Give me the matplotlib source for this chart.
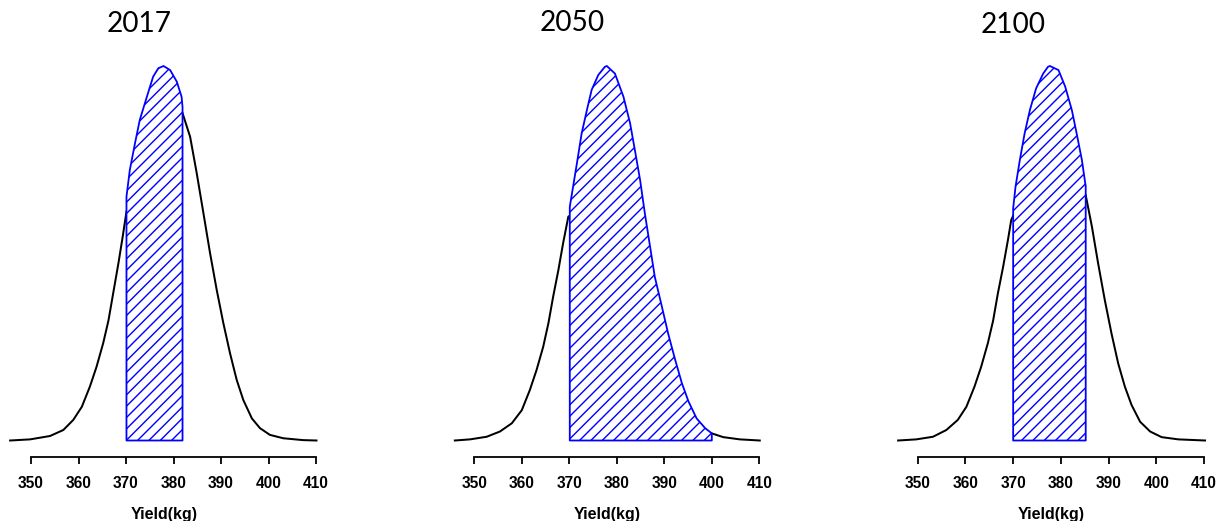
import matplotlib
matplotlib.use("Agg")
import matplotlib.pyplot as plt

DPI = 136
W, H = 1222, 521


def pt(px):
    # pixel -> point at this dpi
    return px * 72 / DPI


years = ["2017", "2050", "2100"]
ticks = [350, 360, 370, 380, 390, 400, 410]
bounds = [(370.1, 381.9), (370.1, 400), (370, 385.2)]

# 2017 : black curve outside the band, blue top edge inside the band (peak = 1)
blx_2017 = [345.6, 349.8, 354, 356.8, 358.9, 360.7, 362.4, 363.8, 365.2, 366.3, 367.3, 368.4, 369.3, 370.1]
bly_2017 = [0, 0.003, 0.012, 0.028, 0.055, 0.09, 0.144, 0.197, 0.26, 0.32, 0.393, 0.473, 0.544, 0.611]
bandx_2017 = [370.1, 370.8, 371.9, 372.9, 374.4, 375.7, 376.8, 377.9, 379.3, 380.7, 381.7, 381.9]
bandy_2017 = [0.651, 0.722, 0.794, 0.856, 0.918, 0.971, 0.994, 1.0, 0.989, 0.958, 0.918, 0.891]
brx_2017 = [381.9, 383.5, 384.9, 386.3, 387.7, 389.1, 390.5, 391.9, 393.3, 394.7, 396.5, 398.2,
            400.3, 403.1, 407.3, 410.1]
bry_2017 = [0.874, 0.811, 0.713, 0.607, 0.5, 0.402, 0.313, 0.233, 0.162, 0.108, 0.059, 0.033,
            0.015, 0.006, 0.001, 0]

# 2050
blx_2050 = [345.9, 349.1, 352.6, 355.4, 357.9, 360, 361.7, 363.1, 364.5, 365.6, 366.6, 367.7, 368.7, 369.8, 370.1]
bly_2050 = [0, 0.003, 0.01, 0.024, 0.046, 0.081, 0.135, 0.188, 0.25, 0.313, 0.384, 0.455, 0.527, 0.598, 0.6]
bandx_2050 = [370.1, 370.8, 371.6, 372.6, 373.7, 374.7, 376.1, 377.5, 377.9, 379.6, 381.4, 382.8,
              383.8, 384.9, 385.9, 387, 388, 389.5, 390.8, 392.3, 393.7, 395.1, 396.8, 398.6, 400]
bandy_2050 = [0.624, 0.678, 0.74, 0.82, 0.882, 0.936, 0.976, 0.998, 1.0, 0.98, 0.918, 0.847,
              0.776, 0.696, 0.607, 0.518, 0.437, 0.357, 0.286, 0.215, 0.153, 0.104, 0.059, 0.033, 0.019]
brx_2050 = [400, 402.4, 405.9, 410.1]
bry_2050 = [0.019, 0.009, 0.003, 0]

# 2100
blx_2100 = [345.9, 349.7, 353.2, 356, 358.4, 360.2, 361.9, 363.3, 364.7, 365.8, 366.8, 367.9, 368.9, 369.6, 370]
bly_2100 = [0, 0.003, 0.01, 0.028, 0.055, 0.09, 0.144, 0.197, 0.26, 0.32, 0.393, 0.464, 0.535, 0.589, 0.6]
bandx_2100 = [370, 370.5, 371.4, 372.4, 373.5, 374.8, 376.3, 377.3, 377.7, 379.5, 380.9, 382.3,
              383.3, 384.4, 385.1, 385.2]
bandy_2100 = [0.62, 0.678, 0.749, 0.82, 0.882, 0.94, 0.98, 0.998, 1.0, 0.989, 0.945, 0.882,
              0.82, 0.749, 0.687, 0.68]
brx_2100 = [385.2, 386.5, 387.8, 389.2, 390.6, 392, 393.4, 394.8, 396.6, 398.7, 401.1, 404.6, 410.2]
bry_2100 = [0.655, 0.571, 0.473, 0.375, 0.286, 0.206, 0.144, 0.095, 0.05, 0.024, 0.009, 0.003, 0]

panels = [
    (blx_2017, bly_2017, bandx_2017, bandy_2017, brx_2017, bry_2017),
    (blx_2050, bly_2050, bandx_2050, bandy_2050, brx_2050, bry_2050),
    (blx_2100, bly_2100, bandx_2100, bandy_2100, brx_2100, bry_2100),
]

plt.rcParams["hatch.linewidth"] = pt(1.4)
plt.rcParams["font.family"] = ["Liberation Sans", "DejaVu Sans"]

fig = plt.figure(figsize=(W / DPI, H / DPI), dpi=DPI)

axis350 = [31, 474.3, 917.7]      # pixel x of tick 350 in each panel
px_per_kg = [4.75, 4.75, 4.773]
base_px, peak_px = 440.5, 66
YTOP = 1.05
title_x = [139.5, 572, 1013.5]
title_y = [24, 23, 25]

for i, (blx, bly, bx, by, brx, bry) in enumerate(panels):
    left = axis350[i] - 5 * px_per_kg[i]
    width = 66 * px_per_kg[i]
    hgt = (base_px - peak_px) * YTOP
    ax = fig.add_axes([left / W, (H - base_px) / H, width / W, hgt / H])
    ax.set_xlim(345, 411)
    ax.set_ylim(0, YTOP)

    ax.plot(blx, bly, color="black", lw=pt(2), clip_on=False, solid_joinstyle="round")
    ax.plot(brx, bry, color="black", lw=pt(2), clip_on=False, solid_joinstyle="round")
    lo, hi = bounds[i]
    ax.fill([lo] + bx + [hi], [0] + by + [0], facecolor="white", edgecolor="blue",
            hatch="////", lw=pt(1.8), clip_on=False, zorder=3, joinstyle="round")

    for s in ("top", "right", "left"):
        ax.spines[s].set_visible(False)
    ax.spines["bottom"].set_position(("outward", pt(16)))
    ax.spines["bottom"].set_bounds(350, 410)
    ax.spines["bottom"].set_linewidth(pt(1.8))
    ax.set_yticks([])
    ax.set_xticks(ticks)
    ax.set_xticklabels([str(t) for t in ticks], fontweight="bold", fontsize=pt(15.5))
    ax.tick_params(axis="x", length=pt(7), width=pt(1.8), pad=pt(12))
    ax.set_xlabel("Yield(kg)", fontweight="bold", fontsize=pt(16), labelpad=pt(16))

    fig.text(title_x[i] / W, 1 - title_y[i] / H, years[i], ha="center", va="center",
             fontsize=pt(28), family=["Lato", "DejaVu Sans"])

fig.savefig("out.png", dpi=DPI)
